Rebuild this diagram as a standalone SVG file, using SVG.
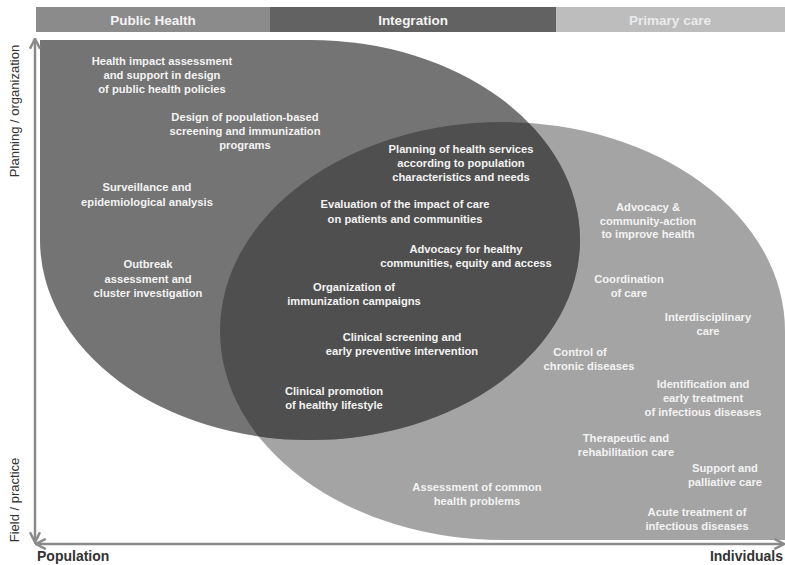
<svg xmlns="http://www.w3.org/2000/svg" width="785" height="565" viewBox="0 0 785 565">
<style>
.hd{font-family:"Liberation Sans",Arial,sans-serif;font-size:13.5px;font-weight:bold;fill:#f4f4f4;text-anchor:middle}
.t{font-family:"Liberation Sans",Arial,sans-serif;font-size:11.2px;font-weight:bold;fill:#f3f3f3;text-anchor:middle}
.ax{font-family:"Liberation Sans",Arial,sans-serif;font-size:13px;fill:#333;}
.axb{font-family:"Liberation Sans",Arial,sans-serif;font-size:14px;font-weight:bold;fill:#333;}
.axis{stroke:#8a8a8a;stroke-width:2.5;fill:none}
</style>
<defs>
<path id="phShape" d="M40,40 H310 A270,200 0 0 1 580,240 A270,200 0 0 1 310,440 A270,200 0 0 1 40,240 Z"/>
<path id="pcShape" d="M220,331 A282.5,209 0 0 1 502.5,122 A282.5,209 0 0 1 785,331 V540 H502.5 A282.5,209 0 0 1 220,331 Z"/>
<clipPath id="phClip"><use href="#phShape"/></clipPath>
<marker id="arr" viewBox="0 0 10 10" refX="8" refY="5" markerWidth="5" markerHeight="5" orient="auto-start-reverse">
<path d="M1,1 L9,5 L1,9" fill="none" stroke="#8a8a8a" stroke-width="2"/>
</marker>
</defs>
<rect width="785" height="565" fill="#ffffff"/>

<g id="header-public-health"><rect x="36" y="7" width="234" height="25" fill="#8b8b8b"/><text class="hd" x="153" y="24.5">Public Health</text></g>
<g id="header-integration"><rect x="270" y="7" width="286" height="25" fill="#626262"/><text class="hd" x="413" y="24.5">Integration</text></g>
<g id="header-primary-care"><rect x="556" y="7" width="229" height="25" fill="#bdbdbd"/><text class="hd" x="670" y="24.5" style="fill:#eaeaea">Primary care</text></g>

<g id="primary-care-area"><use href="#pcShape" fill="#a4a4a4"/></g>
<g id="public-health-area"><use href="#phShape" fill="#747474"/></g>
<g id="integration-area"><use href="#pcShape" fill="#4f4f4f" clip-path="url(#phClip)"/></g>

<g id="connectors">
<line class="axis" x1="35" y1="40" x2="35" y2="541" marker-start="url(#arr)" marker-end="url(#arr)"/>
<line class="axis" x1="37" y1="544" x2="783" y2="544" marker-start="url(#arr)" marker-end="url(#arr)"/>
</g>

<g id="axis-labels">
<text class="ax" transform="translate(19,111) rotate(-90)" text-anchor="middle">Planning / organization</text>
<text class="ax" transform="translate(19,500) rotate(-90)" text-anchor="middle">Field / practice</text>
<text class="axb" x="37" y="561">Population</text>
<text class="axb" x="783" y="561" text-anchor="end">Individuals</text>
</g>

<g id="n-health-impact"><text class="t" x="162" y="65">Health impact assessment</text><text class="t" x="162" y="79">and support in design</text><text class="t" x="162" y="93">of public health policies</text></g>
<g id="n-design-programs"><text class="t" x="245" y="121">Design of population-based</text><text class="t" x="245" y="135">screening and immunization</text><text class="t" x="245" y="149">programs</text></g>
<g id="n-surveillance"><text class="t" x="147" y="191">Surveillance and</text><text class="t" x="147" y="206">epidemiological analysis</text></g>
<g id="n-outbreak"><text class="t" x="148" y="268">Outbreak</text><text class="t" x="148" y="282.5">assessment and</text><text class="t" x="148" y="297">cluster investigation</text></g>

<g id="n-planning"><text class="t" x="461" y="153">Planning of health services</text><text class="t" x="461" y="167">according to population</text><text class="t" x="461" y="181">characteristics and needs</text></g>
<g id="n-evaluation"><text class="t" x="405" y="208">Evaluation of the impact of care</text><text class="t" x="405" y="223">on patients and communities</text></g>
<g id="n-advocacy-healthy"><text class="t" x="466" y="253">Advocacy for healthy</text><text class="t" x="466" y="267">communities, equity and access</text></g>
<g id="n-organization"><text class="t" x="354" y="291">Organization of</text><text class="t" x="354" y="305">immunization campaigns</text></g>
<g id="n-clinical-screening"><text class="t" x="402" y="341">Clinical screening and</text><text class="t" x="402" y="355">early preventive intervention</text></g>
<g id="n-clinical-promotion"><text class="t" x="334" y="395">Clinical promotion</text><text class="t" x="334" y="409">of healthy lifestyle</text></g>

<g id="n-advocacy-community"><text class="t" x="648" y="211">Advocacy &amp;</text><text class="t" x="648" y="225">community-action</text><text class="t" x="648" y="238">to improve health</text></g>
<g id="n-coordination"><text class="t" x="629" y="283">Coordination</text><text class="t" x="629" y="297">of care</text></g>
<g id="n-interdisciplinary"><text class="t" x="708" y="321">Interdisciplinary</text><text class="t" x="708" y="335">care</text></g>
<g id="n-chronic"><text class="t" x="580" y="356">Control of</text><text class="t" x="589" y="370">chronic diseases</text></g>
<g id="n-identification"><text class="t" x="703" y="388">Identification and</text><text class="t" x="703" y="402">early treatment</text><text class="t" x="703" y="416">of infectious diseases</text></g>
<g id="n-therapeutic"><text class="t" x="626" y="442">Therapeutic and</text><text class="t" x="626" y="456">rehabilitation care</text></g>
<g id="n-support"><text class="t" x="725" y="472">Support and</text><text class="t" x="725" y="486">palliative care</text></g>
<g id="n-acute"><text class="t" x="697" y="516">Acute treatment of</text><text class="t" x="697" y="530">infectious diseases</text></g>
<g id="n-assessment"><text class="t" x="477" y="491">Assessment of common</text><text class="t" x="477" y="505">health problems</text></g>
</svg>
